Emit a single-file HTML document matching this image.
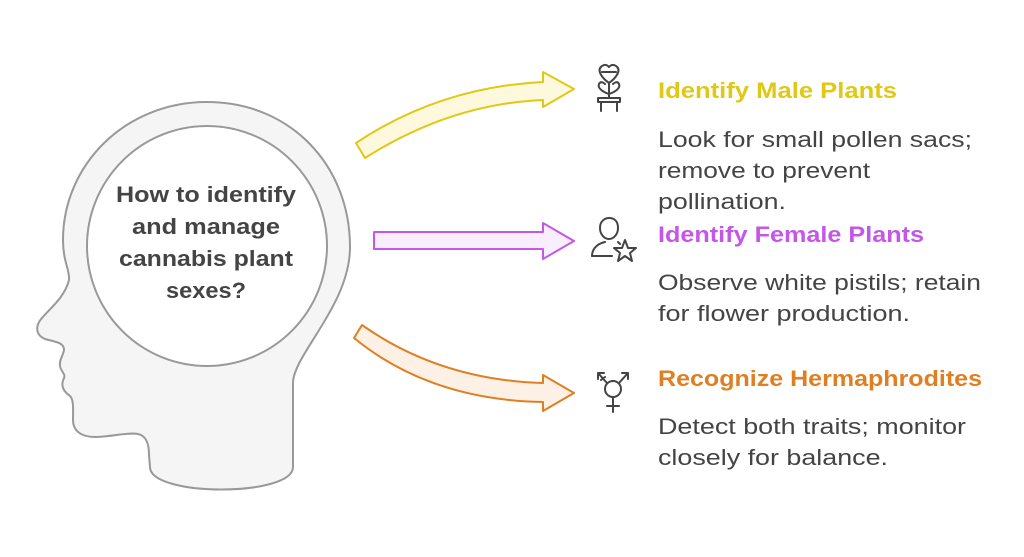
<!DOCTYPE html>
<html><head><meta charset="utf-8"><style>
html,body{margin:0;padding:0;background:#fff;}
svg{display:block;}
text{font-family:"Liberation Sans",sans-serif;}
</style></head><body>
<svg width="1024" height="557" viewBox="0 0 1024 557" xmlns="http://www.w3.org/2000/svg">
<path d="M150,467 C150,497 293,497 293,467 L293,383 C293,355 350,305 350,247 C350,165 290,102 207,102 C125,102 63,165 63,240 C63,262 70,270 69,280 C64,300 45,312 39,322 C35,330 38,336 45,339 C55,342 64,342 64,350 C63,356 59,360 60,366 C61,372 66,374 64,378 C60,386 64,392 70,396 C74,400 73,410 73,420 C73,430 80,437 95,437 C110,437 128,432 138,434 C147,436 149,445 149,455 Z" fill="#f5f5f5" stroke="#999" stroke-width="2"/>
<circle cx="207" cy="246" r="120" fill="#fff" stroke="#999" stroke-width="2"/>
<g font-weight="bold" font-size="22" fill="#444" text-anchor="middle">
<text x="206" y="202" textLength="180" lengthAdjust="spacingAndGlyphs">How to identify</text>
<text x="206" y="234" textLength="148" lengthAdjust="spacingAndGlyphs">and manage</text>
<text x="206" y="266" textLength="174" lengthAdjust="spacingAndGlyphs">cannabis plant</text>
<text x="206" y="298" textLength="80" lengthAdjust="spacingAndGlyphs">sexes?</text>
</g>
<path d="M356,143 Q440,87 543,82 L543,72 L574,89 L543,107 L543,100 Q450,104 365,158 Z" fill="#fef9dc" stroke="#e0c814" stroke-width="2" stroke-linejoin="round"/>
<path d="M374,232 L543,232 L543,223 L574,241 L543,259 L543,249 L374,249 Z" fill="#f9eefd" stroke="#c457e8" stroke-width="2" stroke-linejoin="round"/>
<path d="M362,325 Q440,380 543,383 L543,375 L574,393 L543,411 L543,402 Q430,400 354,338 Z" fill="#fdf0e4" stroke="#e07f22" stroke-width="2" stroke-linejoin="round"/>
<g fill="none" stroke="#444" stroke-width="2" stroke-linecap="round" stroke-linejoin="round">
<path d="M609,83 C602,78 596,70 602,66 C606,63 609,67 609,67 C609,67 612,63 616,66 C622,70 616,78 609,83 Z M602,72 L616,72 M609,83 L609,98"/>
<path d="M609,94 C603,92 597,88 599,84 C601,80 605,84 605,84 M609,94 C615,92 621,88 619,84 C617,80 613,84 613,84"/>
<path d="M598,98 L620,98 L620,102 L598,102 Z M601,102 L601,111 M617,102 L617,111"/>
<path d="M600,228 C600,220 606,218 609,218 C613,218 618,220 618,228 C618,234 614,239 609,239 C604,239 600,234 600,228 Z M592,256 C592,247 600,243 605,242 M618,242 L620,244"/>
<path d="M592,256 L612,256"/>
<path d="M625,240 L628,248 L636,248 L630,253 L632,261 L625,256 L618,261 L620,253 L614,248 L622,248 Z"/>
<circle cx="613" cy="389" r="8"/>
<path d="M613,397 L613,412 M607,406 L619,406 M607,383 L598,373 M598,373 L598,379 M598,373 L604,373 M619,383 L628,373 M628,373 L622,373 M628,373 L628,379 M601,380 L605,377"/>
</g>
<g font-size="22">
<text x="658" y="98" font-weight="bold" fill="#e0c814" textLength="239" lengthAdjust="spacingAndGlyphs">Identify Male Plants</text>
<text x="658" y="147" fill="#444" textLength="314" lengthAdjust="spacingAndGlyphs">Look for small pollen sacs;</text>
<text x="658" y="178" fill="#444" textLength="212" lengthAdjust="spacingAndGlyphs">remove to prevent</text>
<text x="658" y="209" fill="#444" textLength="128" lengthAdjust="spacingAndGlyphs">pollination.</text>
<text x="658" y="242" font-weight="bold" fill="#c457e8" textLength="266" lengthAdjust="spacingAndGlyphs">Identify Female Plants</text>
<text x="658" y="290" fill="#444" textLength="323" lengthAdjust="spacingAndGlyphs">Observe white pistils; retain</text>
<text x="658" y="321" fill="#444" textLength="252" lengthAdjust="spacingAndGlyphs">for flower production.</text>
<text x="658" y="386" font-weight="bold" fill="#e07f22" textLength="324" lengthAdjust="spacingAndGlyphs">Recognize Hermaphrodites</text>
<text x="658" y="434" fill="#444" textLength="308" lengthAdjust="spacingAndGlyphs">Detect both traits; monitor</text>
<text x="658" y="465" fill="#444" textLength="230" lengthAdjust="spacingAndGlyphs">closely for balance.</text>
</g>
</svg>
</body></html>
